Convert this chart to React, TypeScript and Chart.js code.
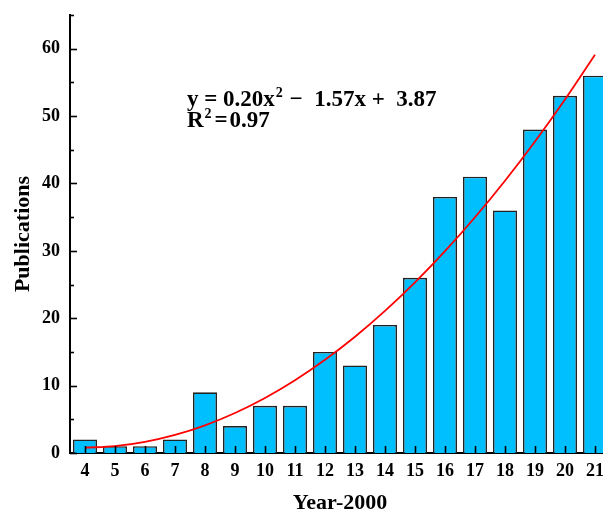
import React, { useEffect, useRef } from "react";
import { Chart, registerables } from "chart.js";

Chart.register(...registerables);

const years = ["4", "5", "6", "7", "8", "9", "10", "11", "12", "13", "14", "15", "16", "17", "18", "19", "20", "21"];
const publications = [2, 1, 1, 2, 9, 4, 7, 7, 15, 13, 19, 26, 38, 41, 36, 48, 53, 56];
const fitValues = [0.79, 1.02, 1.65, 2.68, 4.11, 5.94, 8.17, 10.8, 13.83, 17.26, 21.09, 25.32, 29.95, 34.98, 40.41, 46.24, 52.47, 59.1];
const yMajorTicks = [0, 10, 20, 30, 40, 50, 60];
const yMinorStep = 5;
const yMin = 0;
const yMax = 65;
const equationLine1: [string, boolean][] = [["y = 0.20x", false], ["2", true], [" \u2212  1.57x +  3.87", false]];
const equationLine2: [string, boolean][] = [["R", false], ["2", true], ["\u200A=\u200A0.97", false]];

const FONT = '"Liberation Serif", "Times New Roman", serif';

const overlayPlugin = {
  id: "overlay",
  afterDatasetsDraw(chart: any) {
    const { ctx, chartArea, scales } = chart;
    const x = scales.x;
    const y = scales.y;
    ctx.save();
    ctx.strokeStyle = "#000";
    ctx.lineWidth = 1.6;
    for (let v = yMin; v <= yMax; v += yMinorStep) {
      const py = Math.round(y.getPixelForValue(v)) + 0.5;
      const len = v % 10 === 0 ? 7 : 4;
      ctx.beginPath();
      ctx.moveTo(chartArea.left, py);
      ctx.lineTo(chartArea.left + len, py);
      ctx.stroke();
    }
    years.forEach((_, i) => {
      const px = Math.round(x.getPixelForValue(i)) + 0.5;
      ctx.beginPath();
      ctx.moveTo(px, chartArea.bottom);
      ctx.lineTo(px, chartArea.bottom - 7);
      ctx.stroke();
    });

    const drawRich = (parts: [string, boolean][], sx: number, sy: number) => {
      let cx = sx;
      ctx.fillStyle = "#000";
      ctx.textBaseline = "alphabetic";
      ctx.textAlign = "left";
      for (const [t, sup] of parts) {
        if (sup) {
          ctx.font = `bold 14px ${FONT}`;
          ctx.fillText(t, cx + 1, sy - 9);
          cx += ctx.measureText(t).width + 2;
        } else {
          ctx.font = `bold 23px ${FONT}`;
          ctx.fillText(t, cx, sy);
          cx += ctx.measureText(t).width;
        }
      }
    };
    const ex = x.getPixelForValue(3.4);
    drawRich(equationLine1, ex, y.getPixelForValue(51.5));
    drawRich(equationLine2, ex, y.getPixelForValue(48.4));
    ctx.restore();
  },
};

export default function App() {
  const ref = useRef<HTMLCanvasElement | null>(null);
  useEffect(() => {
    if (!ref.current) return;
    const chart = new Chart(ref.current, {
      type: "bar",
      data: {
        labels: years,
        datasets: [
          {
            type: "line",
            label: "Fit",
            data: fitValues,
            borderColor: "#ff0000",
            borderWidth: 1.8,
            pointRadius: 0,
            cubicInterpolationMode: "monotone",
            fill: false,
            order: 0,
          } as any,
          {
            type: "bar",
            label: "Publications",
            data: publications,
            backgroundColor: "#00bfff",
            borderColor: "#222222",
            borderWidth: 1.6,
            barPercentage: 1,
            categoryPercentage: 0.8,
            order: 1,
          },
        ],
      },
      options: {
        responsive: false,
        animation: false,
        layout: { padding: { top: 15, right: 1, left: 0, bottom: 0 } },
        plugins: { legend: { display: false }, tooltip: { enabled: false } },
        scales: {
          x: {
            type: "category",
            offset: true,
            grid: { display: false, drawTicks: false },
            border: { display: true, color: "#000", width: 2 },
            ticks: { color: "#000", font: { family: FONT, size: 18, weight: "bold" }, padding: 8, maxRotation: 0, autoSkip: false },
            title: {
              display: true,
              text: "Year-2000",
              color: "#000",
              font: { family: FONT, size: 22, weight: "bold", lineHeight: 1 },
              padding: { top: 0, bottom: 0 },
            },
            afterFit: (s: any) => {
              s.height = 61;
              s.paddingLeft = 0;
              s.paddingRight = 0;
            },
          },
          y: {
            min: yMin,
            max: yMax,
            grid: { display: false, drawTicks: false },
            border: { display: true, color: "#000", width: 2 },
            ticks: { color: "#000", font: { family: FONT, size: 18, weight: "bold" }, padding: 10 },
            afterBuildTicks: (s: any) => {
              s.ticks = yMajorTicks.map((v) => ({ value: v }));
            },
            title: {
              display: true,
              text: "Publications",
              color: "#000",
              font: { family: FONT, size: 22, weight: "bold", lineHeight: 1 },
              padding: { top: 12, bottom: 0 },
            },
            afterFit: (s: any) => {
              s.width = 70;
              s.paddingTop = 0;
              s.paddingBottom = 0;
            },
          },
        },
      },
      plugins: [overlayPlugin],
    });
    return () => chart.destroy();
  }, []);
  return (
    <div style={{ position: "absolute", left: 0, top: 0, width: 603, height: 514, overflow: "hidden", background: "#fff" }}>
      <canvas ref={ref} width={611} height={514} style={{ display: "block" }} />
    </div>
  );
}
